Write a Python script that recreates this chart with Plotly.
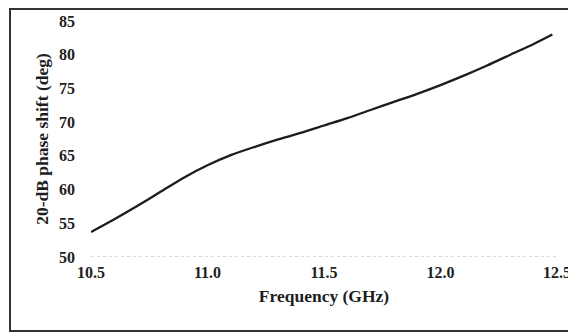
import plotly.graph_objects as go

# Data
frequency_ghz = [10.5, 10.6, 10.7, 10.8, 10.9, 11.0, 11.1, 11.2, 11.3, 11.4, 11.5,
                 11.6, 11.7, 11.8, 11.9, 12.0, 12.1, 12.2, 12.3, 12.4, 12.48]
phase_shift_deg = [53.7, 55.6, 57.6, 59.7, 61.8, 63.6, 65.1, 66.3, 67.4, 68.4, 69.5,
                   70.6, 71.8, 73.0, 74.2, 75.5, 76.9, 78.4, 80.0, 81.6, 83.0]

x_ticks = [10.5, 11.0, 11.5, 12.0, 12.5]
x_tick_labels = ["10.5", "11.0", "11.5", "12.0", "12.5"]
y_ticks = [50, 55, 60, 65, 70, 75, 80, 85]
x_range = [10.5, 12.5]
y_range = [50, 85]

FONT = "Liberation Serif"
OFF = 8  # default page body margin
W, H = 576 - OFF, 333 - OFF
L, R, T, B = 91 - OFF, 19, 21 - OFF, 76
TICK_SIZE, TITLE_SIZE = 16, 17.5

fig = go.Figure()
fig.add_trace(go.Scatter(
    x=frequency_ghz, y=phase_shift_deg, mode="lines",
    line=dict(color="#1c1c1c", width=2.3, shape="spline", smoothing=0.8),
    showlegend=False, hoverinfo="skip", cliponaxis=False,
))

# faint dotted baseline at the bottom of the y range
fig.add_shape(type="line", xref="paper", yref="y", x0=0, x1=1,
              y0=y_range[0], y1=y_range[0],
              line=dict(color="#cccccc", width=1.5, dash="dot"), layer="below")

# outer frame around the figure (paper coords computed from pixel layout)
pw, ph = W - L - R, H - T - B
fx0, fx1 = (10 - OFF - L) / pw, (W - 1 - L) / pw
fy1 = (H - B - (9 - OFF)) / ph
fy0 = (H - B - (331 - OFF)) / ph
fig.add_shape(type="rect", xref="paper", yref="paper",
              x0=fx0, x1=fx1, y0=fy0, y1=fy1,
              line=dict(color="#333333", width=2), fillcolor="rgba(0,0,0,0)")

fig.update_layout(
    template="none",
    width=W, height=H,
    margin=dict(l=L, r=R, t=T, b=B, pad=0, autoexpand=False),
    paper_bgcolor="white", plot_bgcolor="white",
    font=dict(family=FONT, size=TICK_SIZE, color="#1e1e1e"),
    xaxis=dict(
        range=x_range, tickvals=x_ticks, ticktext=x_tick_labels,
        automargin=False,
        showgrid=False, zeroline=False, showline=False, ticks="",
        ticklabelstandoff=4,
        tickfont=dict(family=FONT, size=TICK_SIZE, color="#1e1e1e", weight="bold"),
        title=dict(text="<b>Frequency (GHz)</b>", standoff=9,
                   font=dict(family=FONT, size=TITLE_SIZE, color="#1e1e1e")),
    ),
    yaxis=dict(
        range=y_range, tickvals=y_ticks,
        automargin=False,
        showgrid=False, zeroline=False, showline=False, ticks="",
        ticklabelstandoff=15,
        tickfont=dict(family=FONT, size=TICK_SIZE, color="#1e1e1e", weight="bold"),
        title=dict(text="<b>20-dB phase shift (deg)</b>", standoff=5,
                   font=dict(family=FONT, size=TITLE_SIZE, color="#1e1e1e")),
    ),
)

fig.write_html("out.html")
